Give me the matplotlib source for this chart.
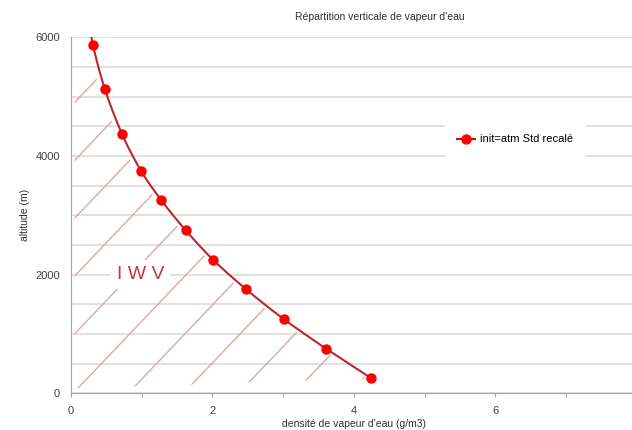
import numpy as np
import matplotlib
matplotlib.use("Agg")
import matplotlib.pyplot as plt
from matplotlib.patches import Polygon

plt.rcParams['font.family'] = ['Liberation Sans', 'DejaVu Sans']

# données
densite = [4.25, 3.61, 3.01, 2.48, 2.01, 1.62, 1.28, 0.99, 0.72, 0.48, 0.31, 0.20]
altitude = [250, 750, 1250, 1750, 2250, 2750, 3250, 3750, 4375, 5125, 5875, 6625]
serie = "init=atm Std recalé"
titre = "Répartition verticale de vapeur d'eau"


def lisse(x, y, n=20):
    # courbe lissée (Catmull-Rom) comme dans Excel
    x = np.asarray(x, float)
    y = np.asarray(y, float)
    px = np.r_[2 * x[0] - x[1], x, 2 * x[-1] - x[-2]]
    py = np.r_[2 * y[0] - y[1], y, 2 * y[-1] - y[-2]]
    xs, ys = [], []
    t = np.linspace(0, 1, n, endpoint=False)
    for i in range(1, len(px) - 2):
        for p, out in ((px, xs), (py, ys)):
            p0, p1, p2, p3 = p[i - 1], p[i], p[i + 1], p[i + 2]
            out.extend(0.5 * (2 * p1 + (-p0 + p2) * t + (2 * p0 - 5 * p1 + 4 * p2 - p3) * t ** 2
                              + (-p0 + 3 * p1 - 3 * p2 + p3) * t ** 3))
    xs.append(x[-1])
    ys.append(y[-1])
    return np.array(xs), np.array(ys)


fig = plt.figure(figsize=(6.32, 4.30), dpi=100)
ax = fig.add_axes([71 / 632, 36.7 / 430, 565.6 / 632, 356 / 430])
ax.set_xlim(0, 8)
ax.set_ylim(0, 6000)

cx, cy = lisse(densite, altitude)

# hachures IWV sous la courbe
m = (cy >= 80) & (cy <= 5450)
poly = Polygon(np.r_[[[0.05, 80]], np.c_[cx - 0.07, cy][m], [[0.05, 5450]]],
               closed=True, transform=ax.transData, facecolor='none', edgecolor='none')
ax.add_patch(poly)
pente = 1250
for x0 in np.arange(0.03 - 0.78 * 9, 4.5, 0.78):
    xx = np.array([x0, x0 + 8])
    h, = ax.plot(xx, (xx - x0) * pente, color='#dda7a7', lw=1.0, zorder=1)
    h.set_clip_path(poly)

ax.plot(cx, cy, color='#b52a2a', lw=1.5, zorder=3)
ax.plot(densite, altitude, ls='none', marker='o', ms=6.5, color='#ff0000',
        mec='#ff0000', zorder=4)
ax.plot([], [], color='#d01010', lw=1.5, marker='o', ms=6.5, mec='#ff0000',
        mfc='#ff0000', label=serie)

ax.text(0.98, 2000, "I W V", color='#c0393b', fontsize=14, ha='center', va='center',
        zorder=2, bbox=dict(facecolor='white', edgecolor='none', pad=4))

ax.set_yticks(np.arange(0, 6001, 500), minor=True)
ax.set_yticks([0, 2000, 4000, 6000])
ax.set_xticks([0, 2, 4, 6])
ax.set_xticks(np.arange(0, 8, 1), minor=True)
ax.grid(True, which='both', axis='y', color='#d9d9d9', lw=1.1, zorder=0)
ax.set_axisbelow(True)
ax.tick_params(axis='y', which='both', length=0, labelsize=8, colors='#404040', pad=8)
ax.tick_params(axis='x', which='both', length=3, color='#a0a0a0', labelsize=8,
               labelcolor='#404040', pad=6)
for s in ['top', 'right']:
    ax.spines[s].set_visible(False)
for s in ['left', 'bottom']:
    ax.spines[s].set_color('#a0a0a0')

ax.set_xlabel("densité de vapeur d'eau (g/m3)", fontsize=7.5, color='#303030', labelpad=2)
ax.set_ylabel("altitude (m)", fontsize=7.5, color='#303030', labelpad=4)
fig.text(380 / 632, 1 - 17 / 430, titre, fontsize=7.5, color='#303030', ha='center', va='center')

leg = ax.legend(loc='center left', bbox_to_anchor=(0.651, 0.713), frameon=True,
                fontsize=8, handlelength=1.6, handletextpad=0.5, borderpad=1.1)
leg.get_frame().set_edgecolor('none')
leg.get_frame().set_facecolor('white')
leg.get_frame().set_alpha(1)

fig.savefig("out.png", dpi=100)
